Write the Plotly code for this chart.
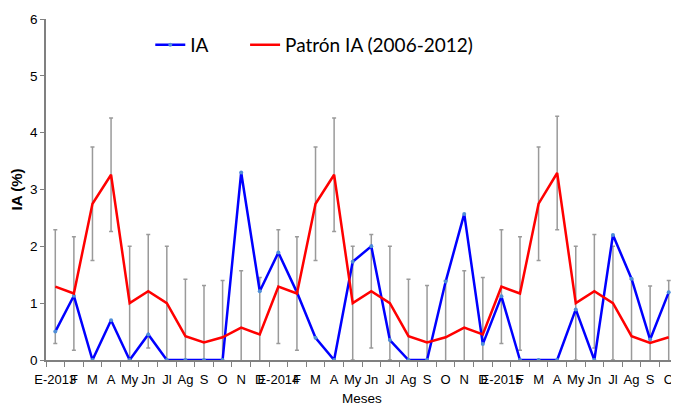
import plotly.graph_objects as go

# Month labels (E = enero ... D = diciembre), Jan 2013 to Oct 2015
months = [
    'E-2013', 'F', 'M', 'A', 'My', 'Jn', 'Jl', 'Ag', 'S', 'O', 'N', 'D',
    'E-2014', 'F', 'M', 'A', 'My', 'Jn', 'Jl', 'Ag', 'S', 'O', 'N', 'D',
    'E-2015', 'F', 'M', 'A', 'My', 'Jn', 'Jl', 'Ag', 'S', 'O',
]

# IA (%) observed
ia = [
    0.50, 1.13, 0.00, 0.70, 0.00, 0.45, 0.00, 0.00, 0.00, 0.00, 3.30, 1.21,
    1.89, 1.19, 0.39, 0.00, 1.73, 2.00, 0.35, 0.00, 0.00, 1.38, 2.57, 0.28,
    1.12, 0.00, 0.00, 0.00, 0.89, 0.00, 2.20, 1.43, 0.36, 1.19,
]

# Patron IA (2006-2012) and its error
patron = [
    1.29, 1.17, 2.75, 3.26, 1.00, 1.21, 1.00, 0.42, 0.31, 0.40, 0.57, 0.45,
    1.29, 1.17, 2.75, 3.26, 1.00, 1.21, 1.00, 0.42, 0.31, 0.40, 0.57, 0.45,
    1.29, 1.17, 2.75, 3.29, 1.00, 1.21, 1.00, 0.42, 0.30, 0.40,
]
patron_err = [1.0] * len(patron)

x = list(range(len(months)))
sans = 'Liberation Sans, Arial, sans-serif'

fig = go.Figure()

# error bars first so both lines sit on top of them
fig.add_trace(go.Scatter(
    x=x, y=patron, mode='markers',
    marker=dict(size=0.1, color='rgba(0,0,0,0)'),
    error_y=dict(type='data', array=patron_err, visible=True,
                 color='#9a9a9a', thickness=1.5, width=2),
    showlegend=False, hoverinfo='skip',
))

fig.add_trace(go.Scatter(
    x=x, y=ia, mode='lines+markers', name='IA',
    line=dict(color='#0000ff', width=2.5),
    marker=dict(size=4, color='#4f8fd8'),
    legend='legend',
))

fig.add_trace(go.Scatter(
    x=x, y=patron, mode='lines', name='Patrón IA (2006-2012)',
    line=dict(color='#ff0000', width=2.5),
    legend='legend2',
))

leg_font = dict(size=19, family='Lato, ' + sans)

fig.update_layout(
    width=671, height=401,
    paper_bgcolor='white', plot_bgcolor='white',
    margin=dict(l=38, r=1, t=11, b=49),
    font=dict(family=sans, color='black'),
    legend=dict(x=0.165, y=0.924, xanchor='left', yanchor='middle',
                font=leg_font, bgcolor='rgba(0,0,0,0)'),
    legend2=dict(x=0.315, y=0.924, xanchor='left', yanchor='middle',
                 font=leg_font, bgcolor='rgba(0,0,0,0)'),
    xaxis=dict(
        range=[-0.5, len(months) - 0.5],
        tickmode='array', tickvals=x, ticktext=months, tickangle=0,
        ticks='', showgrid=False, zeroline=False, ticklabelstandoff=7,
        showline=True, linecolor='#808080', linewidth=1.5,
        tickfont=dict(size=13, family=sans),
        minor=dict(tick0=-0.5, dtick=1, ticks='outside', ticklen=5,
                   tickcolor='#808080', showgrid=False),
        title=dict(text='Meses', font=dict(size=13.5, family=sans), standoff=7),
    ),
    yaxis=dict(
        range=[0, 6], dtick=1, showgrid=False, zeroline=False,
        showline=True, linecolor='#808080', linewidth=1.5,
        ticks='outside', ticklen=4, tickcolor='#808080',
        tickfont=dict(size=13.5, family=sans),
        title=dict(text='<b>IA (%)</b>', font=dict(size=15, family=sans),
                   standoff=6),
    ),
)

fig.write_html("out.html")
